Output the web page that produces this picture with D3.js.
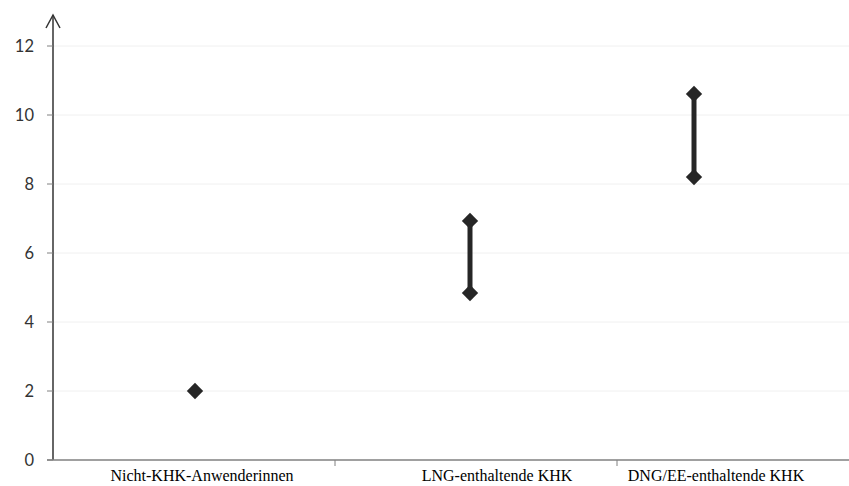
<!DOCTYPE html>
<meta charset="utf-8">
<style>
body { margin: 0; background: #fff; }
.tick-label { font-family: Lato, "Open Sans", sans-serif; font-size: 16.5px; fill: #333; }
.cat-label { font-family: "Liberation Serif", "Times New Roman", serif; font-size: 16px; fill: #000; }
</style>
<body>
<script src="https://cdnjs.cloudflare.com/ajax/libs/d3/7.8.5/d3.min.js"></script>
<script>

var width = 849;
var height = 486;

// data
var categories = ["Nicht-KHK-Anwenderinnen", "LNG-enthaltende KHK", "DNG/EE-enthaltende KHK"];
var lowValues  = [2.0, 4.84, 8.2];
var highValues = [2.0, 6.93, 10.61];
var yTicks     = [0, 2, 4, 6, 8, 10, 12];

var svg = d3.select("body").append("svg")
  .attr("width", width)
  .attr("height", height);

var y = d3.scaleLinear().domain([0, 12]).range([460, 46]);

// category bands along the x axis (ticks sit on the band edges)
var xBand = d3.scaleBand().domain(categories).range([53, 899]);
// where the marks and labels sit inside each band (as in the original chart)
var xMark  = d3.scaleOrdinal().domain(categories).range([195, 470, 694]);
var xLabel = d3.scaleOrdinal().domain(categories).range([202, 497, 716]);

// faint gridlines
svg.selectAll(".grid")
  .data(yTicks.slice(1))
  .enter().append("line")
  .attr("x1", 53).attr("x2", width)
  .attr("y1", d => y(d)).attr("y2", d => y(d))
  .attr("stroke", "#f0f0f0")
  .attr("stroke-width", 1);

// y axis with arrow
svg.append("line")
  .attr("x1", 53).attr("x2", 53)
  .attr("y1", y(0)).attr("y2", 15)
  .attr("stroke", "#333").attr("stroke-width", 1.5);
svg.append("path")
  .attr("d", "M46,28 L53,15 L60,28")
  .attr("fill", "none").attr("stroke", "#333").attr("stroke-width", 1.5);

svg.selectAll(".ytick")
  .data(yTicks)
  .enter().append("line")
  .attr("x1", 47).attr("x2", 53)
  .attr("y1", d => y(d)).attr("y2", d => y(d))
  .attr("stroke", "#808080");

svg.selectAll(".tick-label")
  .data(yTicks)
  .enter().append("text")
  .attr("class", "tick-label")
  .attr("x", 34)
  .attr("y", d => y(d))
  .attr("dy", "0.35em")
  .attr("text-anchor", "end")
  .text(d => d);

// x axis
svg.append("line")
  .attr("x1", 47).attr("x2", width)
  .attr("y1", y(0)).attr("y2", y(0))
  .attr("stroke", "#808080").attr("stroke-width", 1.5);

svg.selectAll(".xtick")
  .data(categories.slice(1))
  .enter().append("line")
  .attr("x1", d => xBand(d)).attr("x2", d => xBand(d))
  .attr("y1", y(0)).attr("y2", y(0) + 6)
  .attr("stroke", "#808080");

svg.selectAll(".cat-label")
  .data(categories)
  .enter().append("text")
  .attr("class", "cat-label")
  .attr("x", d => xLabel(d))
  .attr("y", 481)
  .attr("text-anchor", "middle")
  .text(d => d);

// range bars
var ranges = categories.map((c, i) => ({cat: c, lo: lowValues[i], hi: highValues[i]}));

svg.selectAll(".range")
  .data(ranges.filter(d => d.hi > d.lo))
  .enter().append("line")
  .attr("x1", d => xMark(d.cat)).attr("x2", d => xMark(d.cat))
  .attr("y1", d => y(d.lo)).attr("y2", d => y(d.hi))
  .attr("stroke", "#262626").attr("stroke-width", 5);

// diamonds
var pts = [];
ranges.forEach(function(d) {
  pts.push({cat: d.cat, v: d.lo});
  if (d.hi !== d.lo) pts.push({cat: d.cat, v: d.hi});
});

var diamond = d3.symbol().type(d3.symbolDiamond2).size(170);
svg.selectAll(".pt")
  .data(pts)
  .enter().append("path")
  .attr("d", diamond)
  .attr("transform", d => "translate(" + xMark(d.cat) + "," + y(d.v) + ")")
  .attr("fill", "#262626");

</script>
